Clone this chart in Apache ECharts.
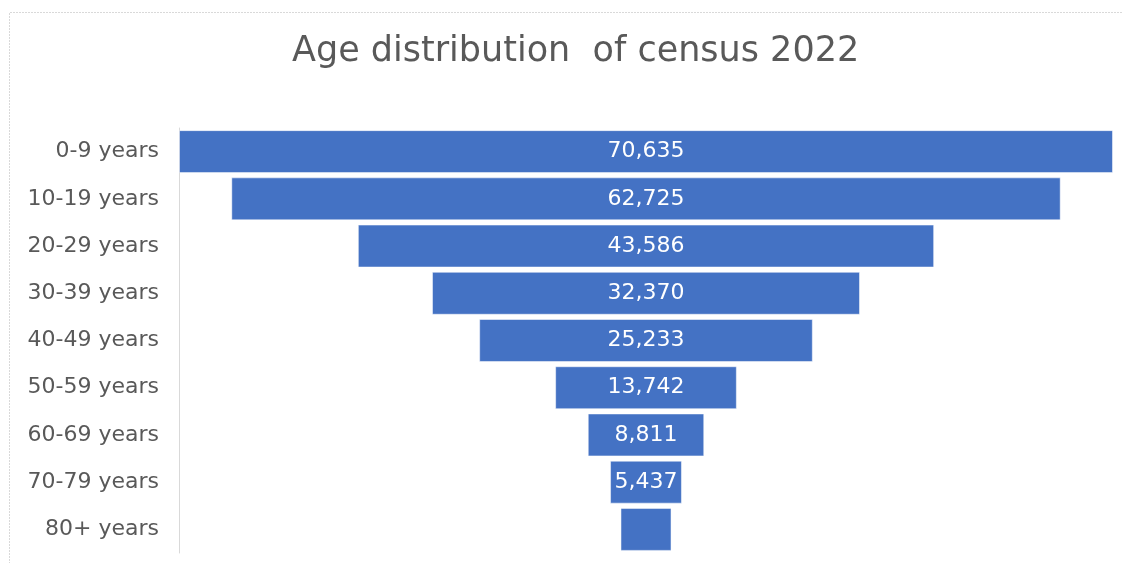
<!DOCTYPE html>
<html>
<head>
<meta charset="utf-8">
<title>Age distribution of census 2022</title>
<script src="https://cdn.jsdelivr.net/npm/echarts@6/dist/echarts.min.js"></script>
<style>
  html, body { margin: 0; padding: 0; background: #ffffff; }
  #chart { width: 1122px; height: 563px; }
</style>
</head>
<body>
<div id="chart"></div>
<script>
// data
const ageGroups = ["0-9 years", "10-19 years", "20-29 years", "30-39 years", "40-49 years",
  "50-59 years", "60-69 years", "70-79 years", "80+ years"];
const population = [70635, 62725, 43586, 32370, 25233, 13742, 8811, 5437, 3860];

const maxValue = Math.max(...population);
// transparent spacer so that each bar is centred (excel funnel)
const spacer = population.map(v => (maxValue - v) / 2);

const chart = echarts.init(document.getElementById("chart"));

let option = {
  animation: false,
  title: {
    text: "Age distribution  of census 2022",
    left: 287,
    top: 29,
    textStyle: {
      color: "#595959",
      fontFamily: "DejaVu Sans",
      fontSize: 35,
      fontWeight: "normal"
    }
  },
  graphic: [
    {
      type: "polyline",
      shape: { points: [[1122, 12.5], [9.5, 12.5], [9.5, 563]] },
      style: { stroke: "#d9d9d9", lineWidth: 1, fill: null, lineDash: [2, 1] },
      silent: true
    }
  ],
  grid: {
    left: 179,
    right: 9,
    top: 128,
    bottom: 10,
    containLabel: false
  },
  xAxis: {
    type: "value",
    min: 0,
    max: maxValue,
    show: false
  },
  yAxis: {
    type: "category",
    inverse: true,
    data: ageGroups,
    axisTick: { show: false },
    axisLine: {
      show: true,
      lineStyle: { color: "#d9d9d9", width: 1 }
    },
    axisLabel: {
      color: "#595959",
      fontFamily: "DejaVu Sans",
      fontSize: 22,
      margin: 20
    }
  },
  series: [
    {
      name: "spacer",
      type: "bar",
      stack: "funnel",
      data: spacer,
      barCategoryGap: "9%",
      itemStyle: { color: "transparent" },
      silent: true
    },
    {
      name: "Population",
      type: "bar",
      stack: "funnel",
      data: population,
      barCategoryGap: "9%",
      itemStyle: {
        color: "#4472C4",
        borderColor: "rgba(255,255,255,0.5)",
        borderWidth: 1
      },
      label: {
        show: true,
        position: "inside",
        color: "#ffffff",
        fontFamily: "DejaVu Sans",
        fontSize: 22,
        formatter: function(p) {
          // excel drops labels that don't fit inside the bar
          if (p.value < 5000) return "";
          return p.value.toLocaleString("en-US");
        }
      }
    }
  ]
};

chart.setOption(option);
</script>
</body>
</html>
